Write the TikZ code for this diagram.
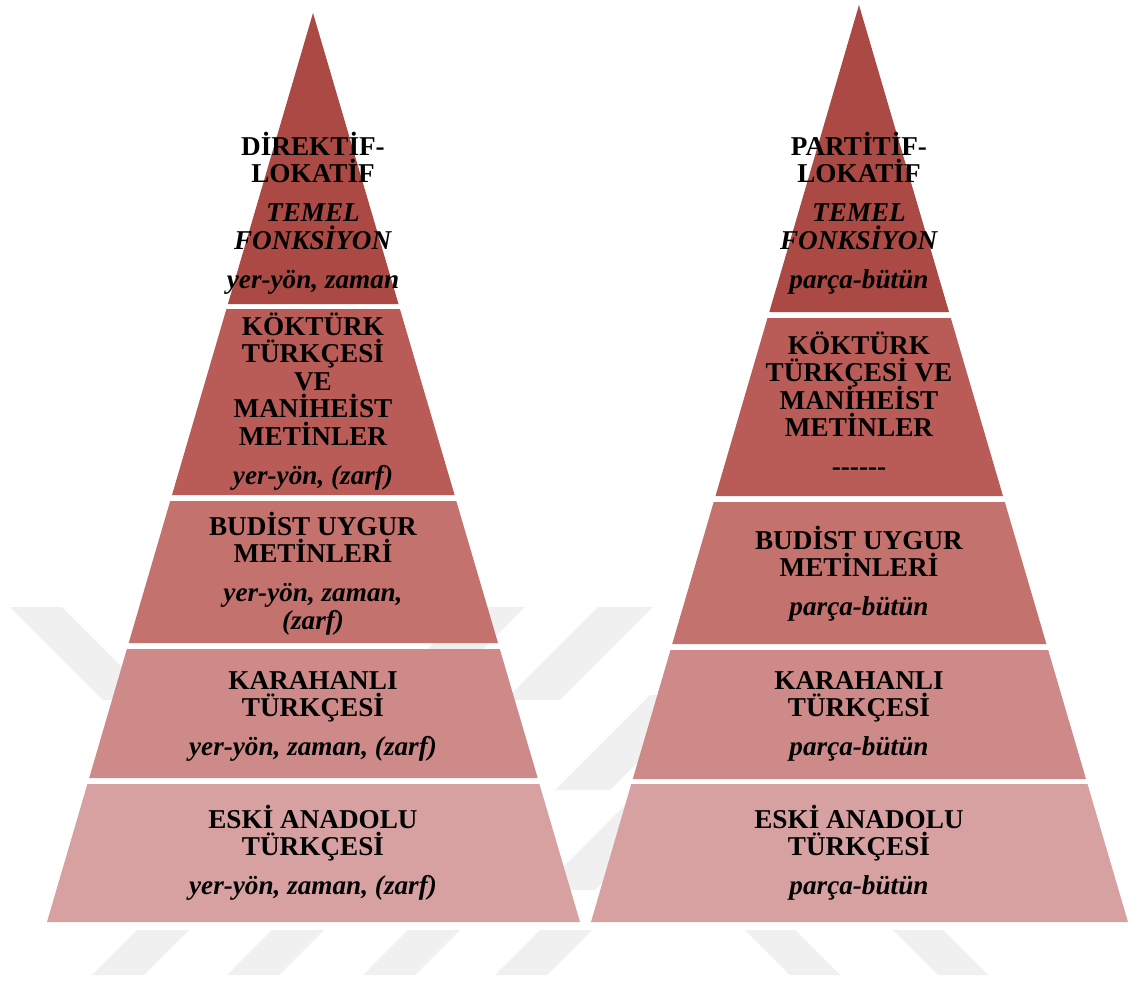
\documentclass[tikz,border=0pt]{standalone}
\usepackage{fontspec}
\setmainfont{Liberation Serif}
\definecolor{tierA}{HTML}{AB4944}
\definecolor{tierB}{HTML}{B95C57}
\definecolor{tierC}{HTML}{C4726E}
\definecolor{tierD}{HTML}{CD8A88}
\definecolor{tierE}{HTML}{D7A1A1}
\definecolor{wmgrey}{HTML}{F0F0F0}
\newcommand\tierfont{\fontsize{20.4}{20.6}\selectfont\bfseries\lineskiplimit=-100pt\relax}
\newcommand\firstline{\rule{0pt}{20pt}}
\newcommand\pgap{8.6pt}
\begin{document}
\begin{tikzpicture}[x=0.75pt,y=-0.75pt,
  wm/.style={fill=wmgrey,draw=none},
  tiertext/.style={anchor=north,inner sep=0pt,align=center,text=black,font=\tierfont}]
\useasboundingbox (0,0) rectangle (1129,981);
\fill[white] (0,0) rectangle (1129,981);

% faint background stripes
\fill[wm] (10,607) -- (62,607) -- (155,700) -- (103,700) -- cycle;
\fill[wm] (470,607) -- (525,607) -- (432,700) -- (377,700) -- cycle;
\fill[wm] (598,607) -- (653,607) -- (560,700) -- (505,700) -- cycle;
\fill[wm] (650,695) -- (705,695) -- (610,790) -- (555,790) -- cycle;
\fill[wm] (630,800) -- (685,800) -- (595,890) -- (540,890) -- cycle;
\foreach \t in {137,272,408,540}
  \fill[wm] (\t,930) -- (\t+52,930) -- (\t+7,975) -- (\t-45,975) -- cycle;
\foreach \t in {745,893}
  \fill[wm] (\t,930) -- (\t+50,930) -- (\t+95,975) -- (\t+45,975) -- cycle;

% left pyramid
\fill[tierA] (313,13) -- (398.5,304) -- (227.9,304) -- cycle;
\fill[tierB] (226.4,309) -- (399.9,309) -- (454.6,495) -- (172.0,495) -- cycle;
\fill[tierC] (170.2,501) -- (456.3,501) -- (498.0,643) -- (128.7,643) -- cycle;
\fill[tierD] (126.9,649) -- (499.8,649) -- (537.7,778) -- (89.2,778) -- cycle;
\fill[tierE] (87.4,784) -- (539.4,784) -- (580.0,922) -- (47.0,922) -- cycle;

% right pyramid
\fill[tierA] (859,5) -- (949.0,312) -- (769.3,312) -- cycle;
\fill[tierB] (767.5,318) -- (950.8,318) -- (1003.0,496) -- (715.5,496) -- cycle;
\fill[tierC] (713.7,502) -- (1004.8,502) -- (1046.4,644) -- (672.2,644) -- cycle;
\fill[tierD] (670.5,650) -- (1048.2,650) -- (1086.0,779) -- (632.8,779) -- cycle;
\fill[tierE] (631.3,784) -- (1087.5,784) -- (1128.0,922) -- (591.0,922) -- cycle;

% left labels
\node[tiertext] (l1) at (313,128.3) {\firstline DİREKTİF-\\LOKATİF\\[\pgap]\textit{TEMEL}\\\textit{FONKSİYON}\\[\pgap]\textit{yer-yön, zaman}};
\node[tiertext] (l2) at (313,308.3) {\firstline KÖKTÜRK\\TÜRKÇESİ\\VE\\MANİHEİST\\METİNLER\\[\pgap]\textit{yer-yön, (zarf)}};
\node[tiertext] (l3) at (313,508.3) {\firstline BUDİST UYGUR\\METİNLERİ\\[\pgap]\textit{yer-yön, zaman,}\\\textit{(zarf)}};
\node[tiertext] (l4) at (313,662.3) {\firstline KARAHANLI\\TÜRKÇESİ\\[\pgap]\textit{yer-yön, zaman, (zarf)}};
\node[tiertext] (l5) at (313,801.3) {\firstline ESKİ ANADOLU\\TÜRKÇESİ\\[\pgap]\textit{yer-yön, zaman, (zarf)}};

% right labels
\node[tiertext] (r1) at (859,128.3) {\firstline PARTİTİF-\\LOKATİF\\[\pgap]\textit{TEMEL}\\\textit{FONKSİYON}\\[\pgap]\textit{parça-bütün}};
\node[tiertext] (r2) at (859,327.3) {\firstline KÖKTÜRK\\TÜRKÇESİ VE\\MANİHEİST\\METİNLER\\[\pgap]-{}-{}-{}-{}-{}-};
\node[tiertext] (r3) at (859,522.3) {\firstline BUDİST UYGUR\\METİNLERİ\\[\pgap]\textit{parça-bütün}};
\node[tiertext] (r4) at (859,662.3) {\firstline KARAHANLI\\TÜRKÇESİ\\[\pgap]\textit{parça-bütün}};
\node[tiertext] (r5) at (859,801.3) {\firstline ESKİ ANADOLU\\TÜRKÇESİ\\[\pgap]\textit{parça-bütün}};
\end{tikzpicture}
\end{document}
